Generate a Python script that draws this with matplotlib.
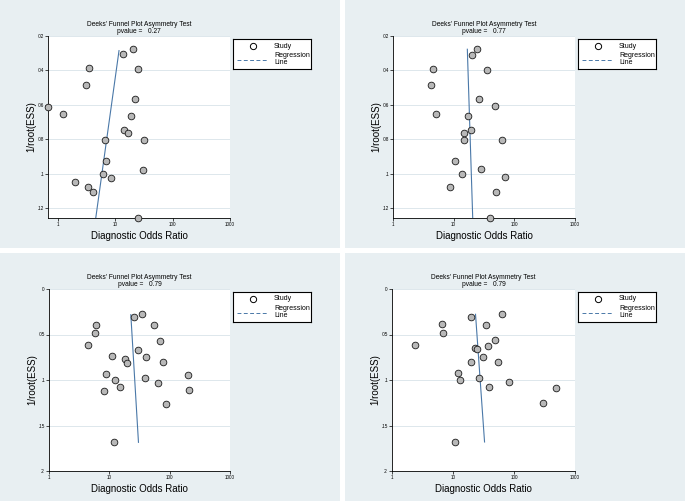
import matplotlib
matplotlib.use('Agg')
import matplotlib.pyplot as plt
from matplotlib.ticker import NullLocator

plt.rcParams['font.family'] = ['Liberation Sans', 'DejaVu Sans']

W, H = 685, 501

# Panel 1 (top left)
p1_dor = [0.68, 1.24, 3.43, 3.08, 13.6, 20.4, 25.2, 21.8, 18.5, 14.4, 16.9,
          6.7, 31.7, 7.0, 6.2, 8.4, 30.4, 1.95, 3.3, 4.03, 25.2]
p1_ess = [0.0611, 0.0653, 0.0388, 0.0485, 0.0306, 0.0276, 0.0394, 0.0566, 0.0665,
          0.0747, 0.0766, 0.0806, 0.0805, 0.0927, 0.1002, 0.1024, 0.0979, 0.1047,
          0.1078, 0.1109, 0.1260]
p1_line_dor = [11.6, 4.55]
p1_line_ess = [0.0285, 0.1260]
p1_pvalue = '0.27'

# Panel 2 (top right)
p2_dor = [24.6, 20.3, 4.48, 35.8, 4.21, 26.2, 48.5, 5.08, 17.1, 19.6, 14.8,
          14.8, 63.2, 10.4, 27.9, 13.6, 69.9, 8.74, 50.4, 40.2]
p2_ess = [0.0277, 0.0308, 0.0389, 0.0397, 0.0486, 0.0569, 0.0609, 0.0652, 0.0665,
          0.0746, 0.0766, 0.0806, 0.0804, 0.0926, 0.0976, 0.1001, 0.1022, 0.1078,
          0.1105, 0.1256]
p2_line_dor = [16.8, 20.6]
p2_line_ess = [0.0277, 0.1256]
p2_pvalue = '0.77'

# Panel 3 (bottom left)
p3_dor = [35.4, 25.5, 6.03, 55.4, 5.81, 67.9, 4.38, 29.6, 11.0, 41.3, 18.3, 20.0,
          77.1, 8.73, 198, 39.7, 12.6, 62.9, 15.3, 8.19, 211, 87.6, 11.9]
p3_ess = [0.0278, 0.0308, 0.0392, 0.0399, 0.0487, 0.0571, 0.0615, 0.0667, 0.0736,
          0.0747, 0.0769, 0.0810, 0.0806, 0.0930, 0.0949, 0.0978, 0.1004, 0.1029,
          0.1081, 0.1125, 0.1106, 0.1260, 0.1685]
p3_line_dor = [22.7, 30.4]
p3_line_ess = [0.0282, 0.1685]
p3_pvalue = '0.79'

# Panel 4 (bottom right)
p4_dor = [62.4, 19.4, 6.66, 35.0, 6.75, 47.9, 2.35, 37.3, 23.1, 24.9, 30.9, 19.6,
          54.3, 12.0, 26.9, 13.1, 82.2, 39.2, 483, 296, 10.6]
p4_ess = [0.0275, 0.0304, 0.0385, 0.0396, 0.0484, 0.0564, 0.0612, 0.0626, 0.0648,
          0.0663, 0.0744, 0.0806, 0.0802, 0.0923, 0.0974, 0.1000, 0.1022, 0.1077,
          0.1084, 0.1256, 0.1681]
p4_line_dor = [23.4, 32.9]
p4_line_ess = [0.0278, 0.1681]
p4_pvalue = '0.79'

top_ticks = [0.02, 0.04, 0.06, 0.08, 0.1, 0.12]
top_labels = ['.02', '.04', '.06', '.08', '.1', '.12']
bot_ticks = [0, 0.05, 0.1, 0.15, 0.2]
bot_labels = ['0', '.05', '.1', '.15', '.2']
x_ticks = [1, 10, 100, 1000]
x_labels = ['1', '10', '100', '1000']

BG = '#e8eff2'
GRID = '#dde7ec'
LINE = '#4a78a8'


def box(x0, y0, x1, y1):
    return [x0 / W, 1 - y1 / H, (x1 - x0) / W, (y1 - y0) / H]


fig = plt.figure(figsize=(W / 100, H / 100), dpi=100, facecolor='white')

panels = [
    (p1_dor, p1_ess, p1_line_dor, p1_line_ess, p1_pvalue,
     (0, 0, 340, 248), (48, 36, 230, 218), 0.67, (0.1258, 0.02), top_ticks, top_labels),
    (p2_dor, p2_ess, p2_line_dor, p2_line_ess, p2_pvalue,
     (345, 0, 685, 248), (393, 36, 575, 218), 1, (0.1258, 0.02), top_ticks, top_labels),
    (p3_dor, p3_ess, p3_line_dor, p3_line_ess, p3_pvalue,
     (0, 253, 340, 501), (49, 289, 230, 471), 1, (0.2, 0), bot_ticks, bot_labels),
    (p4_dor, p4_ess, p4_line_dor, p4_line_ess, p4_pvalue,
     (345, 253, 685, 501), (392, 289, 575, 471), 1, (0.2, 0), bot_ticks, bot_labels),
]

for dor, ess, ldor, less, pval, bg, ab, xlo, ylim, yt, ytl in panels:
    # panel background
    bax = fig.add_axes(box(*bg), zorder=-5)
    bax.set_facecolor(BG)
    bax.set_xticks([])
    bax.set_yticks([])
    for s in bax.spines.values():
        s.set_visible(False)

    ax = fig.add_axes(box(*ab))
    ax.set_facecolor('white')
    ax.set_xscale('log')
    ax.set_xlim(xlo, 1000)
    ax.set_ylim(*ylim)
    ax.set_xticks(x_ticks)
    ax.set_xticklabels(x_labels)
    ax.xaxis.set_minor_locator(NullLocator())
    ax.set_yticks(yt)
    ax.set_yticklabels(ytl)
    ax.yaxis.grid(True, color=GRID, lw=0.7)
    ax.set_axisbelow(True)
    for s in ['top', 'right']:
        ax.spines[s].set_visible(False)
    for s in ['left', 'bottom']:
        ax.spines[s].set_linewidth(0.6)
    ax.tick_params(labelsize=3.3, length=2, width=0.5, pad=1)

    ax.plot(ldor, less, color=LINE, lw=0.8, zorder=2)
    ax.plot(dor, ess, 'o', ms=4.8, mfc='#b8b8b8', mec='#1a1a1a', mew=0.6,
            clip_on=False, zorder=3)

    ax.set_xlabel('Diagnostic Odds Ratio', fontsize=7, labelpad=3)
    ax.set_ylabel('1/root(ESS)', fontsize=7, labelpad=1)

    cx = (ab[0] + ab[2]) / 2
    fig.text(cx / W, 1 - (ab[1] - 11.5) / H, "Deeks' Funnel Plot Asymmetry Test",
             ha='center', va='center', fontsize=4.8)
    fig.text(cx / W, 1 - (ab[1] - 4.8) / H, 'pvalue =   ' + pval,
             ha='center', va='center', fontsize=4.8)

    # legend box
    lx, ly = ab[2] + 3, ab[1] + 3
    lax = fig.add_axes(box(lx, ly, lx + 78, ly + 30))
    lax.set_facecolor('white')
    lax.set_xlim(0, 78)
    lax.set_ylim(30, 0)
    lax.set_xticks([])
    lax.set_yticks([])
    for s in lax.spines.values():
        s.set_linewidth(0.8)
    lax.plot([20], [7], 'o', ms=4.5, mfc='white', mec='black', mew=0.7)
    lax.text(41, 7, 'Study', fontsize=5, va='center')
    lax.plot([3.7, 35.3], [21, 21], color=LINE, lw=0.7, dashes=(4, 2.5))
    lax.text(41, 20.3, 'Regression\nLine', fontsize=5, va='center', linespacing=0.95)

fig.savefig('out.png', dpi=100, facecolor='white')
